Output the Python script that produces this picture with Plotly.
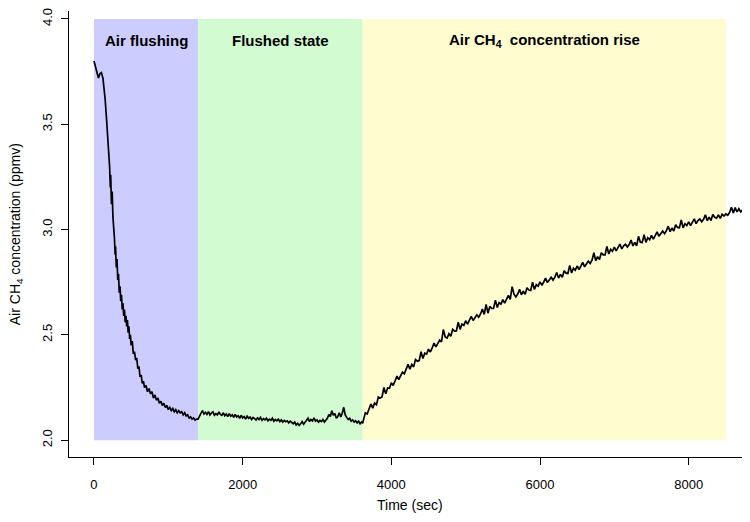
import plotly.graph_objects as go

# ---- phase regions ----
region_labels = ["<b>Air flushing</b>", "<b>Flushed state</b>", "<b>Air CH<sub>4</sub>&nbsp; concentration rise</b>"]
region_start = [0, 1400, 3615]
region_end = [1400, 3615, 8500]
region_colors = ["#CCCCFF", "#D2FBD2", "#FFFDD0"]
region_ymin = 2.0
region_ymax = 4.0
label_y = 3.90

# ---- measured series: time (sec) and air CH4 (ppmv) ----
time_flush = [0, 20, 40, 60, 80, 100, 120, 130, 150, 170, 190, 200, 210, 220, 225, 235, 245, 255, 265,
              275, 285, 290, 300, 310, 320, 330, 340, 350, 360, 370, 380, 390, 400, 410, 420, 430, 440,
              450, 460, 470, 480, 490, 500, 515, 530, 545, 560, 575, 590, 605, 620, 635, 650, 665, 680,
              700, 720, 740, 760, 780, 800, 820, 840, 860, 880, 900, 920, 940, 960, 980, 1000, 1020,
              1040, 1060, 1080, 1100, 1120, 1140, 1160, 1180, 1200, 1220, 1240, 1260, 1280, 1300, 1320,
              1340, 1360, 1380]
ch4_flush = [3.80, 3.77, 3.74, 3.72, 3.74, 3.745, 3.72, 3.69, 3.62, 3.52, 3.42, 3.34, 3.30, 3.20, 3.26,
             3.12, 3.18, 3.06, 3.02, 2.96, 2.88, 2.92, 2.82, 2.86, 2.76, 2.79, 2.70, 2.73, 2.66, 2.69,
             2.62, 2.65, 2.59, 2.62, 2.56, 2.59, 2.54, 2.57, 2.51, 2.54, 2.48, 2.50, 2.45, 2.47, 2.41,
             2.42, 2.38, 2.39, 2.34, 2.35, 2.30, 2.31, 2.27, 2.28, 2.25, 2.26, 2.23, 2.245, 2.22, 2.23,
             2.20, 2.215, 2.19, 2.20, 2.175, 2.185, 2.165, 2.175, 2.155, 2.165, 2.145, 2.155, 2.14,
             2.15, 2.135, 2.145, 2.13, 2.14, 2.13, 2.135, 2.12, 2.13, 2.115, 2.12, 2.105, 2.11, 2.10,
             2.105, 2.095, 2.10]

time_flushed = [1400, 1420, 1440, 1460, 1480, 1500, 1520, 1540, 1560, 1580, 1600, 1620, 1640, 1660,
                1680, 1700, 1720, 1740, 1760, 1780, 1800, 1820, 1840, 1860, 1880, 1900, 1920, 1940,
                1960, 1980, 2000, 2020, 2040, 2060, 2080, 2100, 2120, 2140, 2160, 2180, 2200, 2220,
                2240, 2260, 2280, 2300, 2320, 2340, 2360, 2380, 2400, 2420, 2440, 2460, 2480, 2500,
                2520, 2540, 2560, 2580, 2600, 2620, 2640, 2660, 2680, 2700, 2720, 2740, 2760, 2780,
                2800, 2820, 2840, 2860, 2880, 2900, 2920, 2940, 2960, 2980, 3000, 3020, 3040, 3060,
                3080, 3100, 3120, 3140, 3160, 3180, 3200, 3220, 3240, 3260, 3280, 3300, 3320, 3340,
                3360, 3380, 3400, 3420, 3440, 3460, 3480, 3500, 3520, 3540, 3560, 3580, 3600, 3615]
ch4_flushed = [2.100, 2.118, 2.128, 2.140, 2.124, 2.132, 2.122, 2.136, 2.120, 2.128, 2.134, 2.118,
               2.126, 2.120, 2.134, 2.122, 2.118, 2.130, 2.116, 2.124, 2.112, 2.126, 2.114, 2.120,
               2.108, 2.122, 2.110, 2.116, 2.104, 2.118, 2.106, 2.112, 2.100, 2.114, 2.104, 2.110,
               2.098, 2.108, 2.102, 2.096, 2.106, 2.098, 2.108, 2.094, 2.102, 2.096, 2.104, 2.092,
               2.100, 2.094, 2.104, 2.090, 2.098, 2.092, 2.100, 2.088, 2.096, 2.086, 2.094, 2.088,
               2.092, 2.082, 2.090, 2.084, 2.078, 2.086, 2.072, 2.080, 2.070, 2.078, 2.088, 2.076,
               2.086, 2.094, 2.104, 2.088, 2.098, 2.092, 2.106, 2.090, 2.096, 2.086, 2.094, 2.088,
               2.098, 2.086, 2.094, 2.104, 2.122, 2.112, 2.140, 2.118, 2.126, 2.104, 2.112, 2.130,
               2.110, 2.128, 2.156, 2.120, 2.108, 2.098, 2.104, 2.090, 2.096, 2.086, 2.092, 2.082,
               2.090, 2.078, 2.086, 2.080]

time_rise = [3625, 3650, 3675, 3700, 3725, 3750, 3775, 3800, 3825, 3850, 3875, 3900, 3925, 3950, 3975,
             4000, 4025, 4050, 4075, 4100, 4125, 4150, 4175, 4200, 4225, 4250, 4275, 4300, 4325, 4350,
             4375, 4400, 4425, 4450, 4475, 4500, 4525, 4550, 4575, 4600, 4625, 4650, 4675, 4700, 4725,
             4750, 4775, 4800, 4825, 4850, 4875, 4900, 4925, 4950, 4975, 5000, 5025, 5050, 5075, 5100,
             5125, 5150, 5175, 5200, 5225, 5250, 5275, 5300, 5325, 5350, 5375, 5400, 5425, 5450, 5475,
             5500, 5525, 5550, 5575, 5600, 5625, 5650, 5675, 5700, 5725, 5750, 5775, 5800, 5825, 5850,
             5875, 5900, 5925, 5950, 5975, 6000, 6025, 6050, 6075, 6100, 6125, 6150, 6175, 6200, 6225,
             6250, 6275, 6300, 6325, 6350, 6375, 6400, 6425, 6450, 6475, 6500, 6525, 6550, 6575, 6600,
             6625, 6650, 6675, 6700, 6725, 6750, 6775, 6800, 6825, 6850, 6875, 6900, 6925, 6950, 6975,
             7000, 7025, 7050, 7075, 7100, 7125, 7150, 7175, 7200, 7225, 7250, 7275, 7300, 7325, 7350,
             7375, 7400, 7425, 7450, 7475, 7500, 7525, 7550, 7575, 7600, 7625, 7650, 7675, 7700, 7725,
             7750, 7775, 7800, 7825, 7850, 7875, 7900, 7925, 7950, 7975, 8000, 8025, 8050, 8075, 8100,
             8125, 8150, 8175, 8200, 8225, 8250, 8275, 8300, 8325, 8350, 8375, 8400, 8425, 8450, 8475,
             8500, 8525, 8550, 8575, 8600, 8625, 8650, 8675, 8700, 8725, 8750, 8775, 8800, 8825, 8850]
ch4_rise = [2.095, 2.130, 2.124, 2.144, 2.172, 2.152, 2.176, 2.168, 2.205, 2.200, 2.205, 2.250, 2.220,
            2.248, 2.246, 2.272, 2.260, 2.281, 2.304, 2.288, 2.309, 2.323, 2.315, 2.334, 2.360, 2.337,
            2.359, 2.348, 2.383, 2.375, 2.378, 2.420, 2.388, 2.413, 2.409, 2.432, 2.419, 2.438, 2.461,
            2.443, 2.463, 2.475, 2.467, 2.525, 2.490, 2.485, 2.505, 2.493, 2.526, 2.518, 2.519, 2.560,
            2.526, 2.551, 2.545, 2.567, 2.551, 2.568, 2.588, 2.568, 2.585, 2.595, 2.584, 2.599, 2.622,
            2.597, 2.645, 2.603, 2.635, 2.625, 2.625, 2.665, 2.630, 2.653, 2.646, 2.667, 2.651, 2.668,
            2.688, 2.668, 2.729, 2.693, 2.680, 2.694, 2.716, 2.690, 2.707, 2.693, 2.724, 2.713, 2.711,
            2.750, 2.715, 2.738, 2.731, 2.752, 2.735, 2.751, 2.769, 2.748, 2.764, 2.773, 2.760, 2.774,
            2.796, 2.770, 2.787, 2.773, 2.804, 2.793, 2.791, 2.830, 2.794, 2.816, 2.807, 2.827, 2.810,
            2.826, 2.844, 2.823, 2.840, 2.850, 2.839, 2.854, 2.890, 2.852, 2.871, 2.858, 2.890, 2.880,
            2.880, 2.920, 2.884, 2.906, 2.897, 2.917, 2.899, 2.913, 2.931, 2.908, 2.923, 2.930, 2.917,
            2.929, 2.950, 2.922, 2.939, 2.923, 2.968, 2.940, 2.938, 2.975, 2.939, 2.961, 2.952, 2.972,
            2.955, 2.971, 2.989, 2.968, 2.984, 2.993, 2.980, 2.994, 3.016, 2.990, 3.007, 2.993, 3.023,
            3.010, 3.008, 3.045, 3.008, 3.028, 3.019, 3.037, 3.019, 3.033, 3.051, 3.028, 3.043, 3.050,
            3.037, 3.049, 3.070, 3.042, 3.059, 3.043, 3.071, 3.058, 3.054, 3.070, 3.053, 3.073, 3.064,
            3.074, 3.068, 3.081, 3.106, 3.078, 3.104, 3.084, 3.099, 3.084, 3.093, 3.083, 3.090, 3.079,
            3.083, 3.080]

time_all = time_flush + time_flushed + time_rise
ch4_all = ch4_flush + ch4_flushed + ch4_rise

x_ticks = [0, 2000, 4000, 6000, 8000]
y_ticks = [2.0, 2.5, 3.0, 3.5, 4.0]
y_tick_text = ["2.0", "2.5", "3.0", "3.5", "4.0"]

FONT = "Liberation Sans, Arial, sans-serif"

fig = go.Figure()

for x0, x1, col in zip(region_start, region_end, region_colors):
    fig.add_shape(type="rect", xref="x", yref="y", x0=x0, x1=x1, y0=region_ymin, y1=region_ymax,
                  fillcolor=col, line=dict(width=0), layer="below")

for x0, x1, lab in zip(region_start, region_end, region_labels):
    fig.add_annotation(x=(x0 + x1) / 2, y=label_y, xref="x", yref="y", text=lab, showarrow=False,
                       font=dict(family=FONT, size=15, color="black"))

fig.add_trace(go.Scatter(x=time_all, y=ch4_all, mode="lines",
                         line=dict(color="black", width=1.7), showlegend=False, hoverinfo="skip"))

fig.update_xaxes(range=[-336, 8825], tickvals=x_ticks, ticktext=[str(v) for v in x_ticks],
                 ticks="outside", ticklen=7, tickcolor="black", tickwidth=1,
                 showline=True, linecolor="black", linewidth=1, mirror=False,
                 showgrid=False, zeroline=False, ticklabelstandoff=8, ticklabeloverflow="allow",
                 tickfont=dict(family=FONT, size=13, color="black"))
fig.update_yaxes(range=[1.92, 4.0377], tickvals=y_ticks, ticktext=y_tick_text, tickangle=-90,
                 ticks="outside", ticklen=7, tickcolor="black", tickwidth=1,
                 showline=True, linecolor="black", linewidth=1, mirror=False,
                 showgrid=False, zeroline=False, ticklabelstandoff=4, ticklabeloverflow="allow",
                 tickfont=dict(family=FONT, size=13, color="black"))

fig.add_annotation(x=0.5, y=-0.107, xref="paper", yref="paper", text="Time (sec)", showarrow=False,
                   xanchor="center", yanchor="middle",
                   font=dict(family=FONT, size=14, color="black"))
fig.add_annotation(x=-0.0775, y=0.5, xref="paper", yref="paper",
                   text="Air CH<sub>4</sub> concentration (ppmv)", showarrow=False, textangle=-90,
                   xanchor="center", yanchor="middle",
                   font=dict(family=FONT, size=14, color="black"))

fig.update_layout(
    width=742, height=514,
    margin=dict(l=61, r=0, t=0, b=65),
    plot_bgcolor="white", paper_bgcolor="white",
    font=dict(family=FONT, size=13, color="black"),
)

fig.write_html("out.html")
